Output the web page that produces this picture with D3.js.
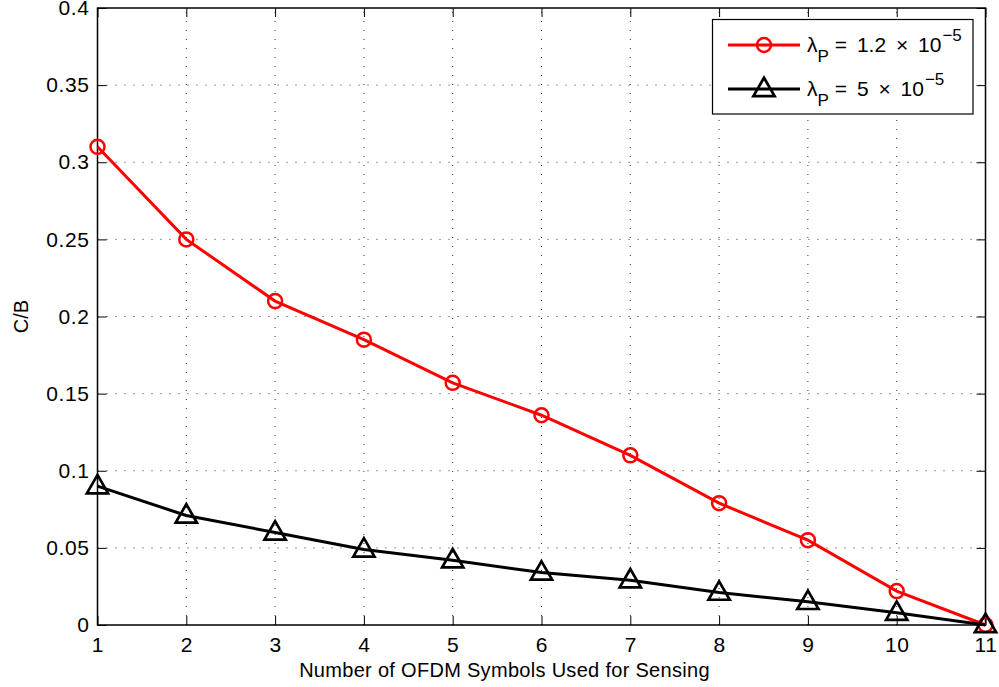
<!DOCTYPE html>
<html>
<head>
<meta charset="utf-8">
<script src="https://cdn.jsdelivr.net/npm/d3@7"></script>
<style>
  body { margin: 0; background: #fff; }
  svg { display: block; font-family: "Liberation Sans", Arial, sans-serif; }
</style>
</head>
<body>
<div id="chart"></div>
<script>
// Data
const symbols = [1, 2, 3, 4, 5, 6, 7, 8, 9, 10, 11];
const lowDensity = [0.31, 0.25, 0.21, 0.185, 0.157, 0.136, 0.110, 0.079, 0.055, 0.022, 0];
const highDensity = [0.090, 0.071, 0.060, 0.049, 0.042, 0.034, 0.029, 0.021, 0.015, 0.008, 0];
const yTicks = [0, 0.05, 0.1, 0.15, 0.2, 0.25, 0.3, 0.35, 0.4];

// Layout
const DIMENSIONS = {
  width: 999,
  height: 687,
  margin: {top: 8, right: 13.5, bottom: 62, left: 97.5}
};

const svg = d3.select("#chart")
  .append("svg")
  .attr("width", DIMENSIONS.width)
  .attr("height", DIMENSIONS.height);

const x = d3.scaleLinear()
  .domain([1, 11])
  .range([DIMENSIONS.margin.left, DIMENSIONS.width - DIMENSIONS.margin.right]);

const y = d3.scaleLinear()
  .domain([0, 0.4])
  .range([DIMENSIONS.height - DIMENSIONS.margin.bottom, DIMENSIONS.margin.top]);

const [x0, x1] = x.range();
const [y0, y1] = y.range();

// Dotted grid
const grid = svg.append("g")
  .attr("stroke", "#333")
  .attr("stroke-width", 1)
  .attr("stroke-dasharray", "1,8");

grid.selectAll(".gx")
  .data(symbols.slice(1, -1))
  .join("line")
  .attr("x1", d => x(d)).attr("x2", d => x(d))
  .attr("y1", y0).attr("y2", y1);

grid.selectAll(".gy")
  .data(yTicks.slice(1, -1))
  .join("line")
  .attr("y1", d => y(d)).attr("y2", d => y(d))
  .attr("x1", x0).attr("x2", x1);

// Axes with inward ticks on all four sides
const tickLen = 9;
svg.append("g")
  .attr("transform", `translate(0,${y0})`)
  .call(d3.axisBottom(x).tickValues(symbols).tickSizeInner(-tickLen).tickSizeOuter(0).tickPadding(12))
  .call(g => g.select(".domain").remove());

svg.append("g")
  .attr("transform", `translate(0,${y1})`)
  .call(d3.axisTop(x).tickValues(symbols).tickSizeInner(-tickLen).tickSizeOuter(0).tickFormat(""))
  .call(g => g.select(".domain").remove());

svg.append("g")
  .attr("transform", `translate(${x0},0)`)
  .call(d3.axisLeft(y).tickValues(yTicks).tickSizeInner(-tickLen).tickSizeOuter(0).tickPadding(8).tickFormat(d3.format("~g")))
  .call(g => g.select(".domain").remove());

svg.append("g")
  .attr("transform", `translate(${x1},0)`)
  .call(d3.axisRight(y).tickValues(yTicks).tickSizeInner(-tickLen).tickSizeOuter(0).tickFormat(""))
  .call(g => g.select(".domain").remove());

svg.selectAll(".tick line").attr("stroke", "#000").attr("stroke-width", 1);
svg.selectAll(".tick text")
  .attr("fill", "#000")
  .attr("font-size", "21px")
  .attr("letter-spacing", "0.6px")
  .attr("font-family", "Liberation Sans, Arial, sans-serif");

// Box
svg.append("rect")
  .attr("x", x0).attr("y", y1)
  .attr("width", x1 - x0).attr("height", y0 - y1)
  .attr("fill", "none")
  .attr("stroke", "#000")
  .attr("stroke-width", 1.5);

// Axis labels
svg.append("text")
  .attr("x", (x0 + x1) / 2 - 37)
  .attr("y", 677)
  .attr("text-anchor", "middle")
  .attr("font-size", "20px")
  .attr("letter-spacing", "0.3px")
  .text("Number of OFDM Symbols Used for Sensing");

svg.append("text")
  .attr("transform", `translate(28,${(y0 + y1) / 2}) rotate(-90)`)
  .attr("text-anchor", "middle")
  .attr("font-size", "20px")
  .text("C/B");

// Series
const line = d3.line()
  .x((d, i) => x(symbols[i]))
  .y(d => y(d));

const series = [
  {values: lowDensity, color: "#ff0000", marker: "circle"},
  {values: highDensity, color: "#000000", marker: "triangle"}
];

const tri = d3.symbol().type(d3.symbolTriangle).size(195);

const drawMarker = (g, marker, color) => {
  if (marker === "circle") {
    g.append("circle").attr("r", 7)
      .attr("fill", "none").attr("stroke", color).attr("stroke-width", 2.5);
  } else {
    g.append("path").attr("d", tri()).attr("transform", "translate(0,1)")
      .attr("fill", "none").attr("stroke", color).attr("stroke-width", 2.7)
      .attr("stroke-linejoin", "miter");
  }
};

series.forEach(s => {
  svg.append("path")
    .datum(s.values)
    .attr("fill", "none")
    .attr("stroke", s.color)
    .attr("stroke-width", 3)
    .attr("d", line);

  svg.append("g")
    .selectAll("g")
    .data(s.values)
    .join("g")
    .attr("transform", (d, i) => `translate(${x(symbols[i])},${y(d)})`)
    .each(function() { drawMarker(d3.select(this), s.marker, s.color); });
});

// Legend
const legend = svg.append("g");
legend.append("rect")
  .attr("x", 712.5).attr("y", 19.5)
  .attr("width", 260.5).attr("height", 94.5)
  .attr("fill", "#fff")
  .attr("stroke", "#000")
  .attr("stroke-width", 1.2);

const legendRows = [
  {color: "#ff0000", marker: "circle", value: "1.2 × 10", y: 45},
  {color: "#000000", marker: "triangle", value: "5 × 10", y: 89}
];

legendRows.forEach(r => {
  legend.append("line")
    .attr("x1", 728).attr("x2", 800)
    .attr("y1", r.y).attr("y2", r.y)
    .attr("stroke", r.color).attr("stroke-width", 3);
  drawMarker(legend.append("g").attr("transform", `translate(764,${r.y})`), r.marker, r.color);

  const t = legend.append("text")
    .attr("x", 807).attr("y", r.y + 7)
    .attr("font-size", "21px")
    .attr("word-spacing", "4px")
    .attr("fill", "#000");
  t.append("tspan").text("λ");
  t.append("tspan").attr("dy", 10).attr("font-size", "17px").text("P");
  t.append("tspan").attr("dy", -10).attr("dx", 6).text("= " + r.value);
  t.append("tspan").attr("dy", -11).attr("dx", 1).attr("font-size", "17px").text("−5");
});
</script>
</body>
</html>
